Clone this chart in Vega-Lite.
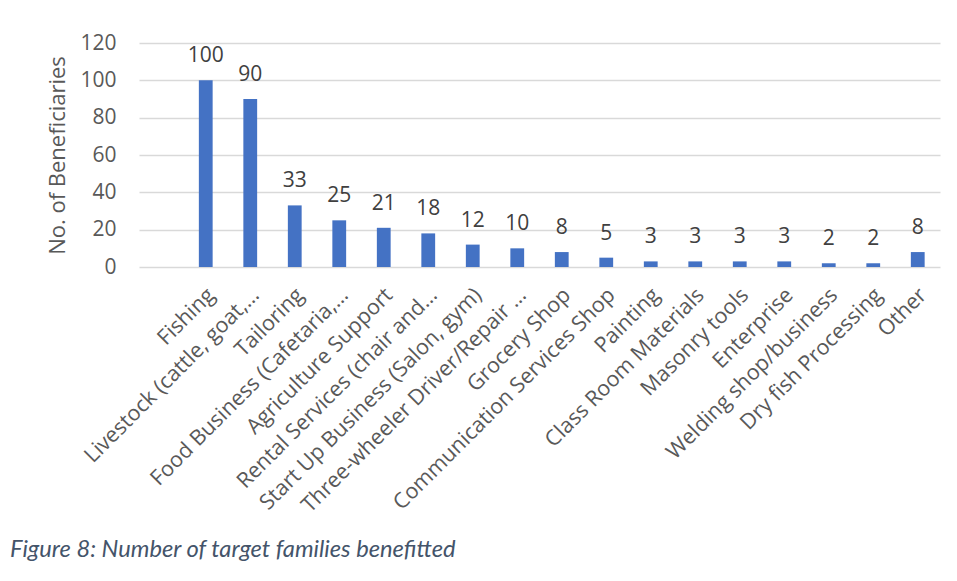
{
  "$schema": "https://vega.github.io/schema/vega-lite/v6.json",
  "autosize": {"type": "none"},
  "padding": {"left": 139, "top": 43, "right": 17, "bottom": 314},
  "width": 801,
  "height": 224,
  "background": "white",
  "config": {"view": {"stroke": null}, "font": "Open Sans", "axis": {"labelFont": "Open Sans", "titleFont": "Open Sans"}, "text": {"font": "Open Sans"}},
  "title": {
    "text": "Figure 8: Number of target families benefitted",
    "orient": "bottom",
    "anchor": "start",
    "frame": "group",
    "dx": -129,
    "offset": 22,
    "font": "Lato",
    "fontStyle": "italic",
    "fontWeight": "normal",
    "fontSize": 23.7,
    "color": "#44546A"
  },
  "data": {
    "values": [
      {"category": "Fishing", "value": 100},
      {"category": "Livestock (cattle, goat,…", "value": 90},
      {"category": "Tailoring", "value": 33},
      {"category": "Food Business (Cafetaria,…", "value": 25},
      {"category": "Agriculture Support", "value": 21},
      {"category": "Rental Services (chair and…", "value": 18},
      {"category": "Start Up Business (Salon, gym)", "value": 12},
      {"category": "Three-wheeler Driver/Repair …", "value": 10},
      {"category": "Grocery Shop", "value": 8},
      {"category": "Communication Services Shop", "value": 5},
      {"category": "Painting", "value": 3},
      {"category": "Class Room Materials", "value": 3},
      {"category": "Masonry tools", "value": 3},
      {"category": "Enterprise", "value": 3},
      {"category": "Welding shop/business", "value": 2},
      {"category": "Dry fish Processing", "value": 2},
      {"category": "Other", "value": 8}
    ]
  },
  "encoding": {
    "x": {
      "field": "category",
      "type": "nominal",
      "sort": null,
      "scale": {
        "domain": [" ", "Fishing", "Livestock (cattle, goat,…", "Tailoring", "Food Business (Cafetaria,…", "Agriculture Support", "Rental Services (chair and…", "Start Up Business (Salon, gym)", "Three-wheeler Driver/Repair …", "Grocery Shop", "Communication Services Shop", "Painting", "Class Room Materials", "Masonry tools", "Enterprise", "Welding shop/business", "Dry fish Processing", "Other"],
        "paddingInner": 0.69
      },
      "axis": {
        "title": null,
        "labelAngle": -45,
        "labelAlign": "right",
        "labelBaseline": "top",
        "labelPadding": 17,
        "labelOffset": -2,
        "labelFont": "Open Sans",
        "labelFontSize": 21.5,
        "labelColor": "#595959",
        "labelLimit": 500,
        "labelOverlap": false,
        "ticks": false,
        "domain": false
      }
    },
    "y": {
      "field": "value",
      "type": "quantitative",
      "scale": {"domain": [0, 120], "nice": false},
      "axis": {
        "title": "No. of Beneficiaries",
        "titleFont": "Open Sans",
        "titleFontSize": 22,
        "titleFontWeight": "normal",
        "titleColor": "#595959",
        "titlePadding": 10,
        "values": [0, 20, 40, 60, 80, 100, 120],
        "labelFont": "Open Sans",
        "labelFontSize": 21,
        "labelColor": "#595959",
        "labelPadding": 23,
        "ticks": false,
        "domain": false,
        "gridColor": "#d9d9d9",
        "gridWidth": 1.3
      }
    }
  },
  "layer": [
    {"mark": {"type": "bar", "color": "#4472C4"}},
    {
      "mark": {"type": "text", "baseline": "alphabetic", "dy": -18, "fontSize": 21, "color": "#404040", "font": "Open Sans"},
      "encoding": {"text": {"field": "value", "type": "quantitative"}}
    }
  ]
}
